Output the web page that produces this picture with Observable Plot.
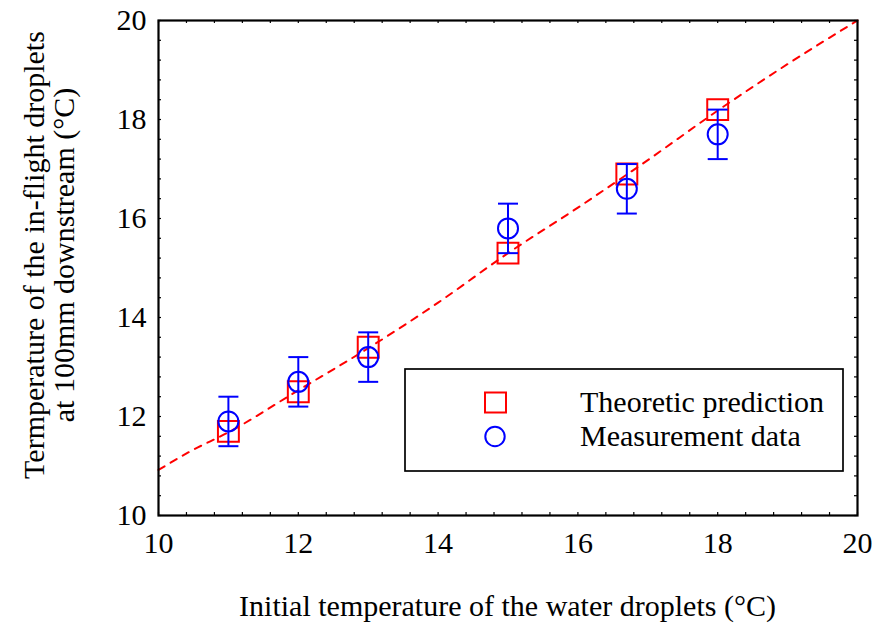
<!DOCTYPE html>
<html>
<head>
<meta charset="utf-8">
<script src="https://cdn.jsdelivr.net/npm/d3@7"></script>
<script src="https://cdn.jsdelivr.net/npm/@observablehq/plot@0.6"></script>
<style>
  html, body { margin: 0; padding: 0; background: white; }
</style>
</head>
<body>
<div id="chart"></div>
<script>
// ---- data ----
const initialTemp = [11, 12, 13, 15, 16.7, 18];
const theoretic   = [11.7, 12.5, 13.4, 15.3, 16.9, 18.2];
const measured    = [11.9, 12.7, 13.2, 15.8, 16.6, 17.7];
const errLow      = [11.4, 12.2, 12.7, 15.3, 16.1, 17.2];
const errHigh     = [12.4, 13.2, 13.7, 16.3, 17.1, 18.2];

const curveX = [10, 10.46, 11, 12, 13, 14, 15, 16, 17, 18, 19, 20];
const curveY = [10.92, 11.3, 11.68, 12.53, 13.38, 14.3, 15.3, 16.22, 17.18, 18.18, 19.12, 20];

const xTicks = [10, 12, 14, 16, 18, 20];
const yTicks = [10, 12, 14, 16, 18, 20];
const minorTicks = d3.range(0, 26).map(i => 10 + i * 0.4);

const xTitle = "Initial temperature of the water droplets (°C)";
const yTitle1 = "Termperature of the in-flight droplets";
const yTitle2 = "at 100mm downstream (°C)";
const legendLabels = ["Theoretic prediction", "Measurement data"];

// ---- tables ----
const points = initialTemp.map((x, i) => ({x, theo: theoretic[i], meas: measured[i], lo: errLow[i], hi: errHigh[i]}));
const curve = curveX.map((x, i) => ({x, y: curveY[i]}));

const RED = "#ff0000", BLUE = "#0000ff";
const FONT = "'Liberation Serif', 'Times New Roman', serif";

// horizontal bar symbol for error caps: half-width = r
const hbar = {draw(ctx, size) { const r = Math.sqrt(size / Math.PI); ctx.moveTo(-r, 0); ctx.lineTo(r, 0); }};

const svg = Plot.plot({
  width: 876,
  height: 624,
  marginLeft: 158,
  marginRight: 19,
  marginTop: 20,
  marginBottom: 109,
  style: {fontFamily: FONT, fontSize: "30px", background: "white", color: "black"},
  x: {domain: [10, 20]},
  y: {domain: [10, 20]},
  marks: [
    Plot.axisX({ticks: xTicks, tickSize: 0, tickPadding: 16, label: null, fontSize: 30, tickFormat: d => String(d)}),
    Plot.axisY({ticks: yTicks, tickSize: 0, tickPadding: 12, label: null, fontSize: 30, tickFormat: d => String(d)}),
    // inward minor ticks on all four sides
    Plot.ruleX(minorTicks, {x: d => d, y1: 10, y2: 10.06, stroke: "black", strokeWidth: 1.2}),
    Plot.ruleX(minorTicks, {x: d => d, y1: 20, y2: 19.94, stroke: "black", strokeWidth: 1.2}),
    Plot.ruleY(minorTicks, {y: d => d, x1: 10, x2: 10.043, stroke: "black", strokeWidth: 1.2}),
    Plot.ruleY(minorTicks, {y: d => d, x1: 20, x2: 19.957, stroke: "black", strokeWidth: 1.2}),
    // dashed theoretical curve
    Plot.line(curve, {x: "x", y: "y", stroke: RED, strokeWidth: 2, strokeDasharray: "7,7", curve: "monotone-x"}),
    // theoretic prediction squares
    Plot.dot(points, {x: "x", y: "theo", symbol: "square", r: 11.8, stroke: RED, strokeWidth: 2, fill: "none"}),
    // error bars
    Plot.ruleX(points, {x: "x", y1: "lo", y2: "hi", stroke: BLUE, strokeWidth: 2}),
    Plot.dot(points, {x: "x", y: "lo", symbol: hbar, r: 10, stroke: BLUE, strokeWidth: 2, fill: "none"}),
    Plot.dot(points, {x: "x", y: "hi", symbol: hbar, r: 10, stroke: BLUE, strokeWidth: 2, fill: "none"}),
    // measurement circles
    Plot.dot(points, {x: "x", y: "meas", symbol: "circle", r: 10, stroke: BLUE, strokeWidth: 2, fill: "none"}),
    Plot.frame({stroke: "black", strokeWidth: 2.2})
  ]
});

const s = d3.select(svg);
// axis titles
s.append("text").attr("x", 507.5).attr("y", 616).attr("text-anchor", "middle")
  .attr("font-family", FONT).attr("font-size", 30).attr("fill", "black").text(xTitle);
s.append("text").attr("transform", "translate(44,255) rotate(-90)").attr("text-anchor", "middle")
  .attr("font-family", FONT).attr("font-size", 30).attr("fill", "black").text(yTitle1);
s.append("text").attr("transform", "translate(74,255) rotate(-90)").attr("text-anchor", "middle")
  .attr("font-family", FONT).attr("font-size", 30).attr("fill", "black").text(yTitle2);

// legend
const lg = s.append("g");
lg.append("rect").attr("x", 405).attr("y", 369).attr("width", 438).attr("height", 102)
  .attr("fill", "white").attr("stroke", "black").attr("stroke-width", 1.7);
lg.append("rect").attr("x", 485).attr("y", 392.5).attr("width", 21).attr("height", 20)
  .attr("fill", "none").attr("stroke", RED).attr("stroke-width", 2);
lg.append("circle").attr("cx", 495).attr("cy", 436.5).attr("r", 9.7)
  .attr("fill", "none").attr("stroke", BLUE).attr("stroke-width", 2);
lg.append("text").attr("x", 580).attr("y", 411.5).attr("text-anchor", "start").attr("font-family", FONT).attr("font-size", 30)
  .attr("fill", "black").text(legendLabels[0]);
lg.append("text").attr("x", 580).attr("y", 445.5).attr("text-anchor", "start").attr("font-family", FONT).attr("font-size", 30)
  .attr("fill", "black").text(legendLabels[1]);

document.getElementById("chart").appendChild(svg);
</script>
</body>
</html>
